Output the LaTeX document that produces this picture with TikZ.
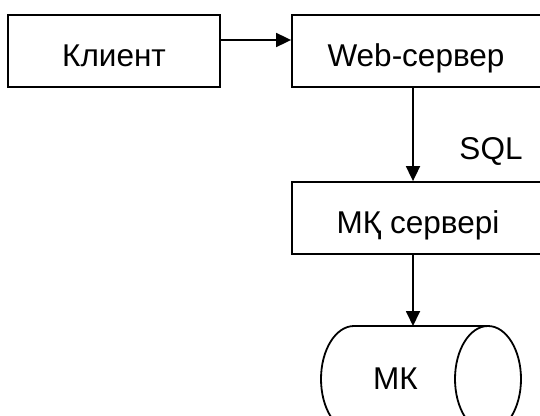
\documentclass[tikz,border=0pt]{standalone}
\usepackage{fontspec}
\setmainfont{Liberation Sans}
\usetikzlibrary{arrows.meta}
\begin{document}
\begin{tikzpicture}[x=1pt,y=1pt,
  lw/.style={line width=1.8pt},
  box/.style={draw,lw,rectangle,minimum height=72pt,inner sep=0pt,
    text height=31.5pt,text depth=0pt,font=\fontsize{31.5}{38}\selectfont},
  lbl/.style={anchor=base,inner sep=0pt,font=\fontsize{31.5}{38}\selectfont},
  arr/.style={lw,-{Triangle[length=15pt,width=14pt]}}]
\useasboundingbox (0,0) rectangle (540,-415);
\clip (0,0) rectangle (540,-415);
\fill[white] (0,0) rectangle (540,-415);
\node[box,minimum width=212pt] (client) at (114,-51) {Клиент};
\node[box,minimum width=256pt] (web) at (420,-51) {\hspace*{-8pt}Web-сервер};
\node[box,minimum width=256pt] (mks) at (420,-218) {\hspace*{-4pt}МҚ сервері};
\node[lbl] (sql) at (491,-159) {SQL};
% cylinder
\draw[lw] (354,-326) -- (488,-326);
\draw[lw] (354,-432) -- (488,-432);
\draw[lw] (354,-326) arc[start angle=90,end angle=270,x radius=33,y radius=53];
\draw[lw] (488,-379) ellipse[x radius=33,y radius=53];
\node[lbl] (db) at (395.5,-389) {МК};
\coordinate (dbtop) at (413,-326);
\draw[arr] ([yshift=11pt]client.east) -- ([yshift=11pt]web.west);
\draw[arr] ([xshift=-7pt]web.south) -- ([xshift=-7pt]mks.north);
\draw[arr] ([xshift=-7pt]mks.south) -- (dbtop);
\end{tikzpicture}
\end{document}
